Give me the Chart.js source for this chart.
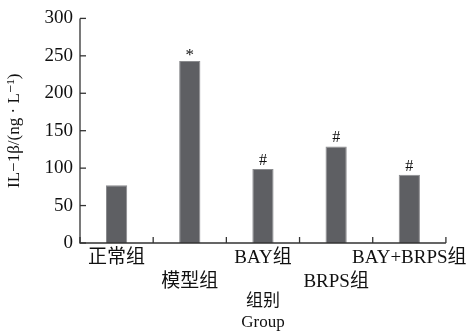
<!DOCTYPE html>
<html>
<head>
<meta charset="utf-8">
<script src="https://cdn.jsdelivr.net/npm/chart.js@4/dist/chart.umd.min.js"></script>
<style>
  html, body { margin: 0; padding: 0; background: #fff; }
  #wrap { width: 471px; height: 333px; position: relative; }
</style>
</head>
<body>
<div id="wrap"><canvas id="c"></canvas></div>
<script>
// Groups, IL-1β levels and significance marks
const groups = ['正常组', '模型组', 'BAY组', 'BRPS组', 'BAY+BRPS组'];
const il1b = [77, 243, 99, 129, 91];
const marks = ['', '*', '#', '#', '#'];
const yTicks = [0, 50, 100, 150, 200, 250, 300];

const SERIF = '"Liberation Serif", "DejaVu Serif", serif';
// Latin glyphs in serif, Chinese glyphs fall back to the CJK face
const MIXED = '"Liberation Serif", "Noto Sans CJK SC", serif';

// Alternate labels between two rows so long names do not collide
const staggered = groups.map((g, i) => (i % 2 === 0 ? [g, ''] : ['', g]));

// Ticks drawn inward from both axes, plus the significance marks
const axisDecor = {
  id: 'axisDecor',
  afterDraw(chart) {
    const ctx = chart.ctx;
    const x = chart.scales.x, y = chart.scales.y;
    const area = chart.chartArea;
    ctx.save();
    ctx.strokeStyle = '#333';
    ctx.lineWidth = 1.3;
    // axis lines
    ctx.beginPath();
    ctx.moveTo(area.left, y.getPixelForValue(300));
    ctx.lineTo(area.left, y.getPixelForValue(0));
    ctx.lineTo(area.right, y.getPixelForValue(0));
    ctx.stroke();
    // y ticks, pointing right
    yTicks.forEach(v => {
      const py = y.getPixelForValue(v);
      ctx.beginPath();
      ctx.moveTo(area.left, py);
      ctx.lineTo(area.left + 6, py);
      ctx.stroke();
    });
    // x ticks on category boundaries, pointing up
    const base = y.getPixelForValue(0);
    for (let i = 0; i <= groups.length; i++) {
      const px = x.getPixelForValue(i - 0.5);
      ctx.beginPath();
      ctx.moveTo(px, base);
      ctx.lineTo(px, base - 6);
      ctx.stroke();
    }
    // marks above bars
    const meta = chart.getDatasetMeta(0);
    ctx.fillStyle = '#111';
    ctx.textAlign = 'center';
    ctx.textBaseline = 'alphabetic';
    meta.data.forEach((bar, i) => {
      if (!marks[i]) return;
      if (marks[i] === '*') {
        ctx.font = '17px ' + SERIF;
        ctx.fillText('*', bar.x, bar.y - 1);
      } else {
        ctx.font = '16px ' + SERIF;
        ctx.fillText('#', bar.x, bar.y - 4);
      }
    });
    ctx.restore();
  }
};

new Chart(document.getElementById('c'), {
  type: 'bar',
  data: {
    labels: staggered,
    datasets: [{
      data: il1b,
      backgroundColor: '#5e5f63',
      borderColor: '#8a8b8e',
      borderWidth: { top: 1, left: 1, right: 1, bottom: 0 },
      categoryPercentage: 1,
      barPercentage: 0.29
    }]
  },
  options: {
    responsive: true,
    maintainAspectRatio: false,
    animation: false,
    layout: { padding: { top: 0, right: 14, left: 0, bottom: 0 } },
    plugins: { legend: { display: false }, tooltip: { enabled: false } },
    scales: {
      x: {
        grid: { display: false, drawTicks: false },
        border: { display: false },
        ticks: {
          color: '#111',
          font: { family: MIXED, size: 19, lineHeight: 1.25 },
          padding: 3,
          maxRotation: 0,
          autoSkip: false
        },
        title: {
          display: true,
          text: ['组别', 'Group'],
          color: '#111',
          font: { family: MIXED, size: 17, lineHeight: 1.25 },
          padding: { top: 0, bottom: 0 }
        },
        afterFit(s) { s.height = 90; }
      },
      y: {
        min: 0, max: 300,
        afterBuildTicks(s) { s.ticks = yTicks.map(v => ({ value: v })); },
        grid: { display: false, drawTicks: false },
        border: { display: false },
        ticks: {
          color: '#111',
          font: { family: SERIF, size: 19 },
          padding: 7
        },
        title: {
          display: true,
          text: 'IL−1β/(ng · L⁻¹)',
          color: '#111',
          font: { family: SERIF, size: 17 },
          padding: { top: 4, bottom: 2 }
        },
        afterFit(s) { s.width = 80; }
      }
    }
  },
  plugins: [axisDecor]
});
</script>
</body>
</html>
